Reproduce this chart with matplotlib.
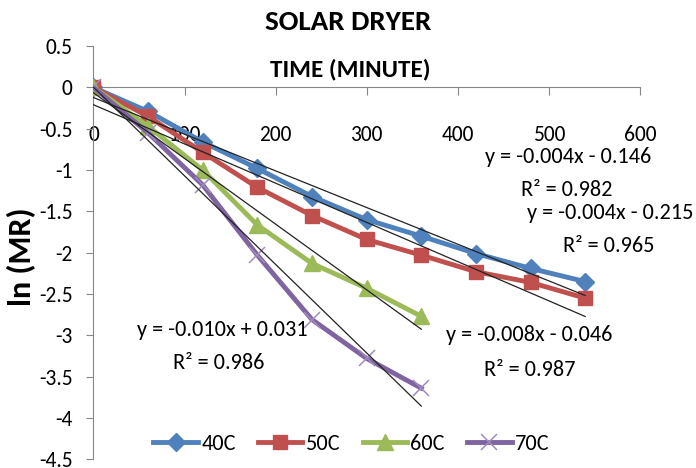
import numpy as np
import matplotlib
matplotlib.use('Agg')
import matplotlib.pyplot as plt

plt.rcParams['font.family'] = ['Carlito', 'DejaVu Sans']
plt.rcParams['axes.unicode_minus'] = False

# czas (min) i ln(MR)
time_40 = [0, 60, 120, 180, 240, 300, 360, 420, 480, 540]
ln_mr_40 = [0, -0.29, -0.66, -0.98, -1.32, -1.60, -1.80, -2.01, -2.19, -2.35]
time_50 = [0, 60, 120, 180, 240, 300, 360, 420, 480, 540]
ln_mr_50 = [0, -0.35, -0.785, -1.21, -1.55, -1.84, -2.03, -2.23, -2.36, -2.55]
time_60 = [0, 60, 120, 180, 240, 300, 360]
ln_mr_60 = [0, -0.47, -1.0, -1.665, -2.13, -2.43, -2.77]
time_70 = [0, 60, 120, 180, 240, 300, 360]
ln_mr_70 = [0, -0.55, -1.18, -2.03, -2.81, -3.28, -3.64]

labels = ['40C', '50C', '60C', '70C']
eq_texts = ['y = -0.004x - 0.146', 'y = -0.004x - 0.215',
            'y = -0.008x - 0.046', 'y = -0.010x + 0.031']
r2_texts = ['R² = 0.982', 'R² = 0.965', 'R² = 0.987', 'R² = 0.986']

colors = ['#4F81BD', '#C0504D', '#9BBB59', '#8064A2']
markers = ['D', 's', '^', 'x']
msizes = [9.5, 10.5, 11, 11]

fig = plt.figure(figsize=(6.96, 4.68), dpi=100)
ax = fig.add_axes([0.1343, 0.0188, 0.785, 0.8825])

serie = [(time_40, ln_mr_40), (time_50, ln_mr_50), (time_60, ln_mr_60), (time_70, ln_mr_70)]
for (t, v), c, m, ms, lab in zip(serie, colors, markers, msizes, labels):
    if m == 'x':
        ax.plot(t, v, color=c, lw=3.5, marker=m, ms=ms, mew=1.1,
                mec='#A08CC0', label=lab, zorder=3)
    else:
        ax.plot(t, v, color=c, lw=3.5, marker=m, ms=ms, label=lab, zorder=3)

# linie trendu (regresja liniowa)
for t, v in serie:
    t = np.array(t, dtype=float)
    a, b = np.polyfit(t, v, 1)
    ax.plot([t[0], t[-1]], [b, a * t[-1] + b], color='#222222', lw=0.9, zorder=4)

# opisy rownan
eq_pos = [(521, -0.84), (567, -1.52), (478, -3.0), (141, -2.94)]
r2_pos = [(520, -1.24), (566, -1.92), (479, -3.42), (138, -3.34)]
for txt, (x, y) in zip(eq_texts, eq_pos):
    ax.text(x, y, txt, ha='center', va='center', fontsize=16)
for txt, (x, y) in zip(r2_texts, r2_pos):
    ax.text(x, y, txt, ha='center', va='center', fontsize=16)

ax.set_xlim(0, 600)
ax.set_ylim(-4.5, 0.5)
ax.set_xticks(range(0, 601, 100))
ax.set_yticks(np.arange(-4.5, 0.51, 0.5))
ax.yaxis.set_major_formatter(matplotlib.ticker.FormatStrFormatter('%g'))

ax.spines['top'].set_visible(False)
ax.spines['right'].set_visible(False)
ax.spines['bottom'].set_position(('data', 0))
ax.spines['left'].set_color('#868686')
ax.spines['bottom'].set_color('#868686')
ax.tick_params(axis='x', direction='out', length=6, color='#868686', pad=21, labelsize=15.5)
ax.tick_params(axis='y', direction='out', length=5, color='#868686', pad=10, labelsize=15.5)

fig.text(0.5, 0.953, 'SOLAR DRYER', ha='center', va='center', fontsize=21, weight='bold')
fig.text(0.503, 1 - 69 / 468, 'TIME (MINUTE)', ha='center', va='center', fontsize=18, weight='bold')
fig.text(22 / 696, 1 - 257 / 468, 'ln (MR)', ha='center', va='center', rotation=90,
         fontsize=23, weight='bold')

ax.legend(loc='center', bbox_to_anchor=(351.5 / 696, 1 - 444 / 468),
          bbox_transform=fig.transFigure, ncol=4, frameon=False, fontsize=16,
          handlelength=2.0, handletextpad=0.15, columnspacing=1.0)

fig.savefig('out.png', dpi=100)
